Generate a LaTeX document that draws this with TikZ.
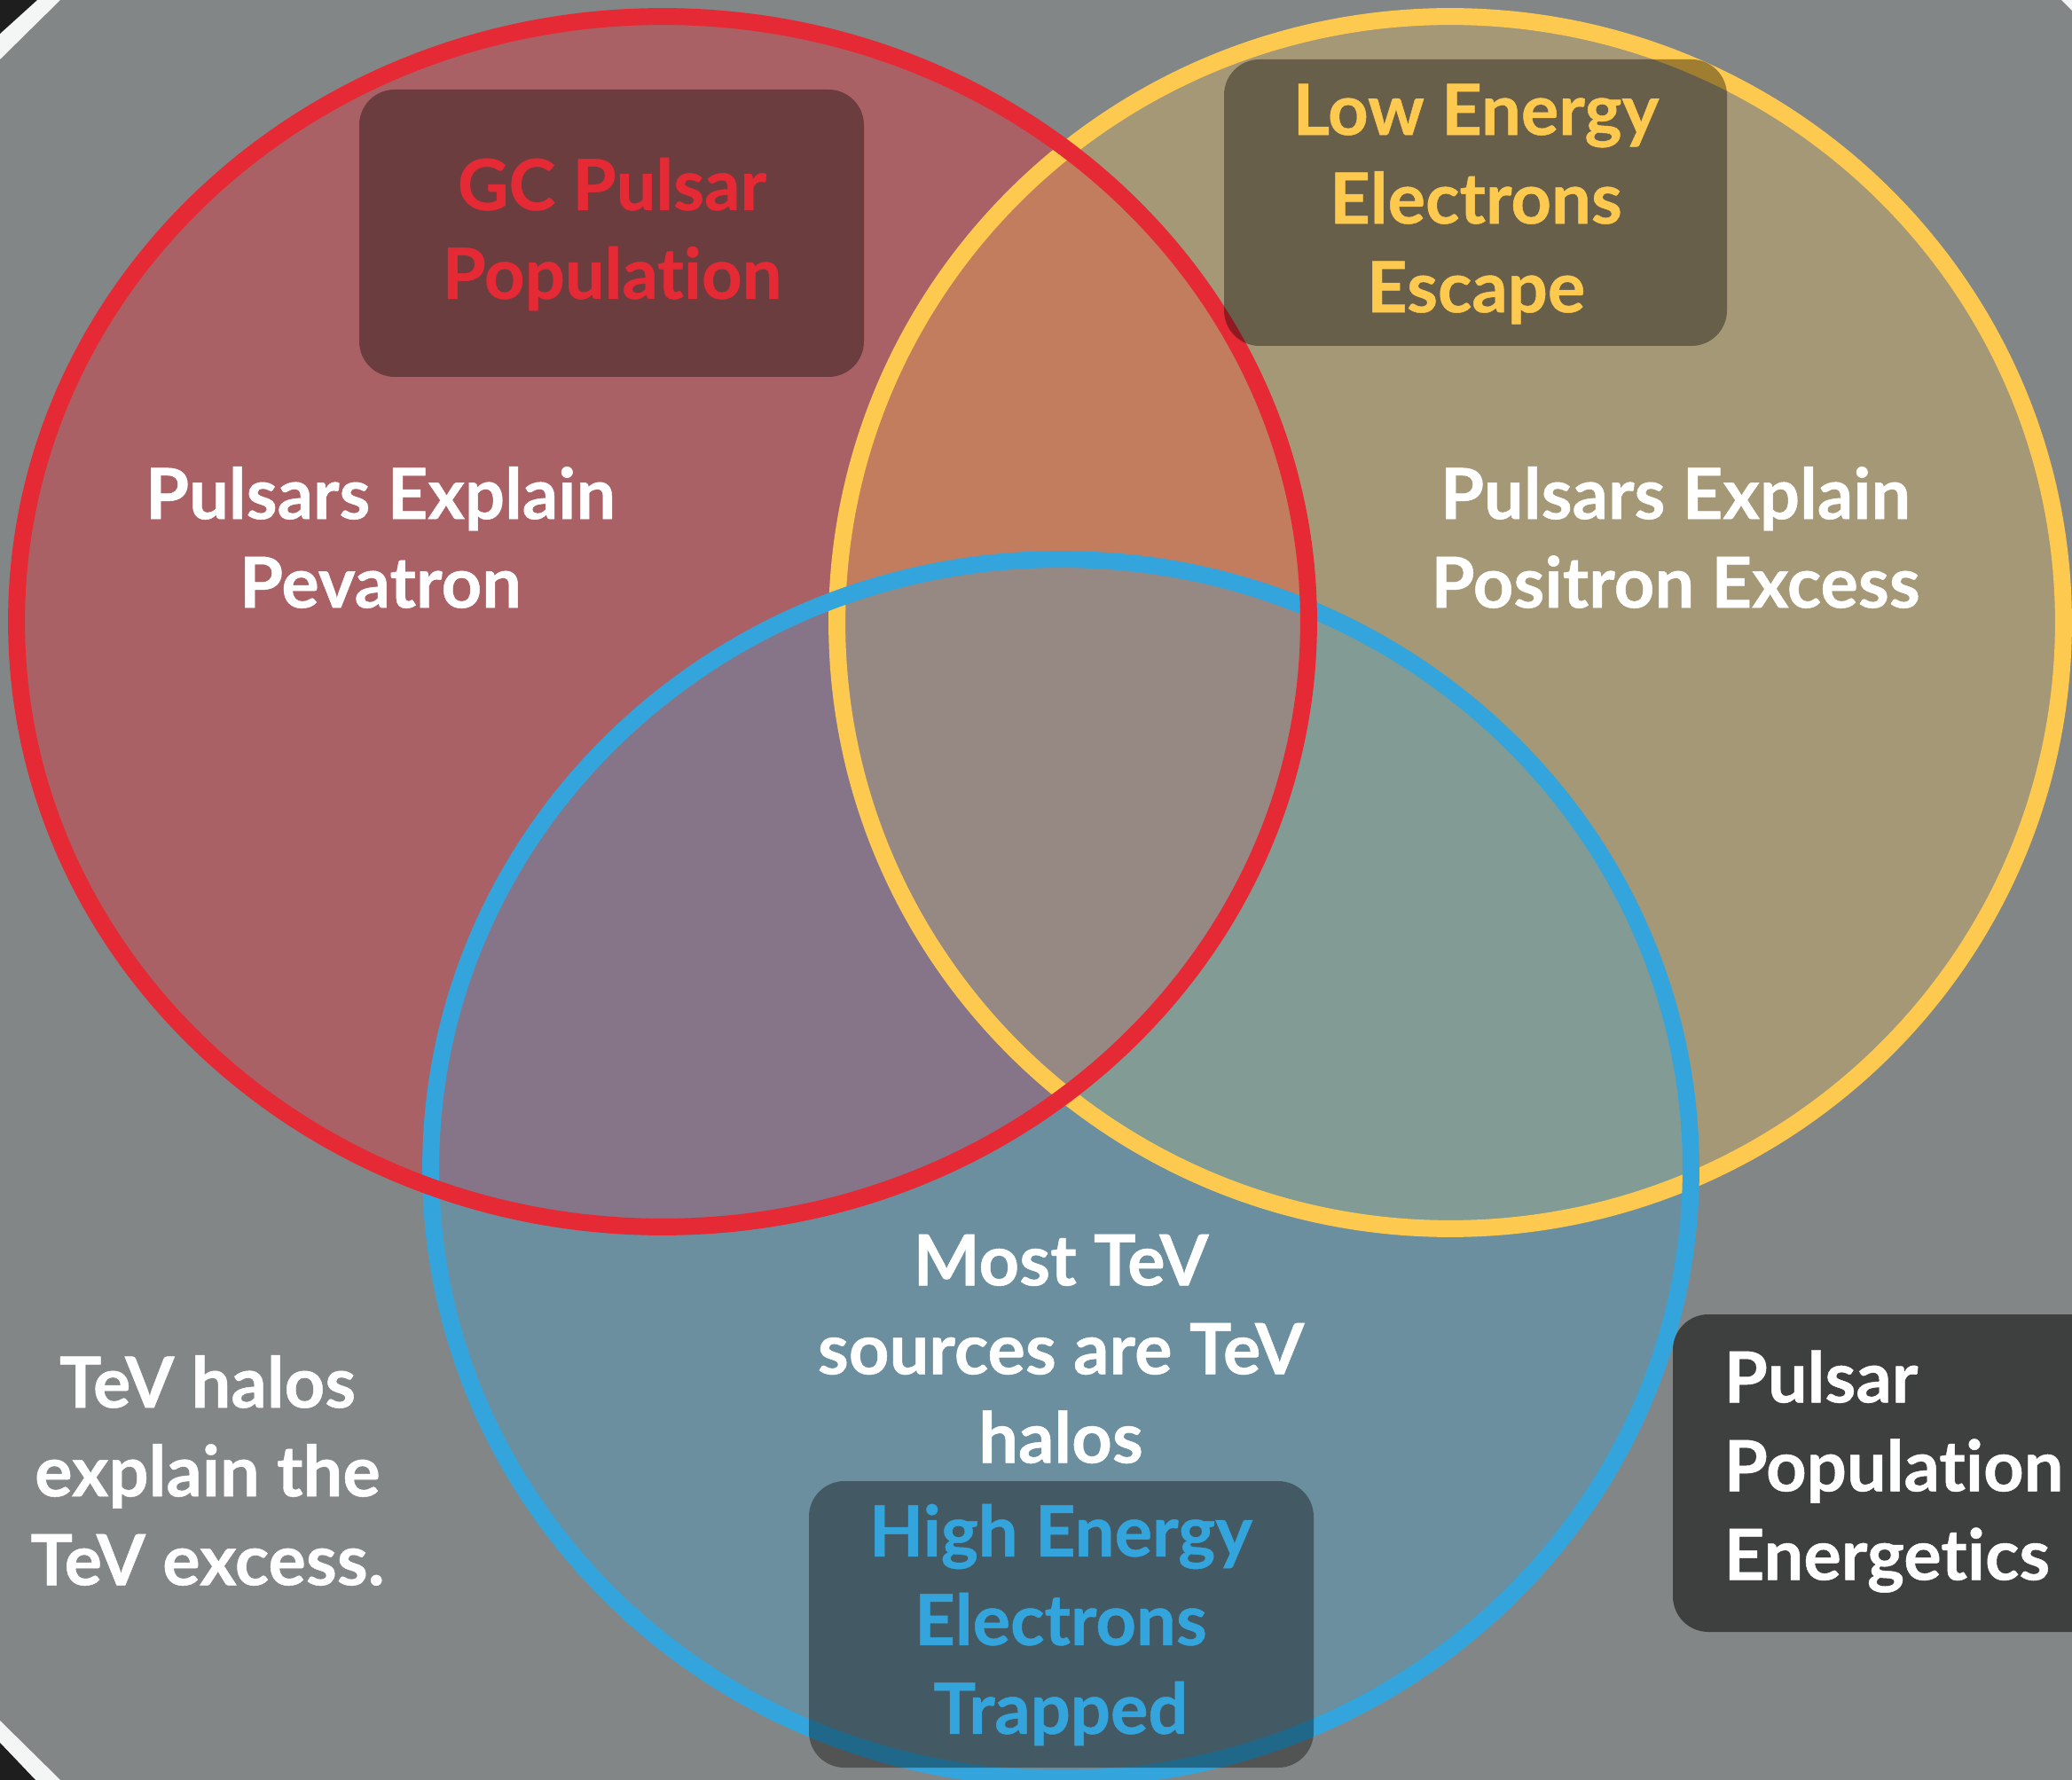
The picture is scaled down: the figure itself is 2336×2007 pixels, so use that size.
\documentclass[tikz,border=0pt]{standalone}
\usepackage{fontspec}
\setmainfont{Lato}[Ligatures=NoCommon,BoldFeatures={FakeBold=0.6}]
\usetikzlibrary{positioning}
\definecolor{slate}{HTML}{838686}
\definecolor{vred}{HTML}{E52A35}
\definecolor{vyellow}{HTML}{FEC94F}
\definecolor{vblue}{HTML}{34A5DC}
\definecolor{coal}{HTML}{3E4040}
\definecolor{ink}{HTML}{1E1E1E}
\definecolor{paper}{HTML}{F3F6F5}
\tikzset{ring/.style={line width=0.19cm},
  shade box/.style={fill=black,fill opacity=0.37,rounded corners=0.4cm},
  lbl/.style={font=\fontsize{22.6}{28.45}\selectfont\bfseries,align=center,
  inner sep=0pt,text=white}}

\begin{document}
\begin{tikzpicture}[x=0.01cm,y=-0.01cm]
\useasboundingbox (0,0) rectangle (2336,2007);
\fill[slate] (0,0) rectangle (2336,2007);
% screenshot corners
\fill[paper] (0,0)--(68,0)--(0,67)--cycle;
\fill[ink] (0,0)--(42,0)--(0,38)--cycle;
\fill[paper] (0,1940)--(68,2007)--(0,2007)--cycle;
\fill[ink] (0,1965)--(40,2007)--(0,2007)--cycle;
\fill[paper] (2324,0)--(2336,0)--(2336,12)--cycle;
% venn fills
\fill[vred,fill opacity=0.4] (747,701) ellipse [x radius=7.28cm,y radius=6.82cm];
\fill[vyellow,fill opacity=0.28] (1635,702) ellipse [x radius=6.91cm,y radius=6.83cm];
\fill[vblue,fill opacity=0.3] (1196,1318) ellipse [x radius=7.10cm,y radius=6.87cm];
% venn rings
\draw[ring,vyellow] (1635,702) ellipse [x radius=6.91cm,y radius=6.83cm];
\draw[ring,vblue] (1196,1318) ellipse [x radius=7.10cm,y radius=6.87cm];
\draw[ring,vred] (747,701) ellipse [x radius=7.28cm,y radius=6.82cm];
% label boxes
\fill[shade box] (405,101) rectangle (974,425);
\fill[shade box] (1380,67) rectangle (1947,390);
\fill[shade box] (912,1670) rectangle (1481,1993);
\fill[coal,rounded corners=0.4cm] (1886,1482) rectangle (2400,1840);
\node[lbl] (pev) at (429,606) {Pulsars Explain\\Pevatron};
\node[lbl,text=vred] (gcpop) at (690,264) {GC Pulsar\\Population};
\node[lbl,text=vyellow] (lowE) at (1664,230) {Low Energy\\Electrons\\Escape};
\node[lbl] (pos) at (1889,606) {Pulsars Explain\\Positron Excess};
\node[lbl] (most) at (1196,1521) {Most TeV\\sources are TeV\\halos};
\node[lbl,text=vblue] (highE) at (1196,1832) {High Energy\\Electrons\\Trapped};
\node[lbl] (halos) at (234,1658) {TeV halos\\explain the\\TeV excess.};
\node[lbl,align=left,anchor=west] (energ) at (1943,1659) {Pulsar\\Population\\Energetics};
\end{tikzpicture}
\end{document}
